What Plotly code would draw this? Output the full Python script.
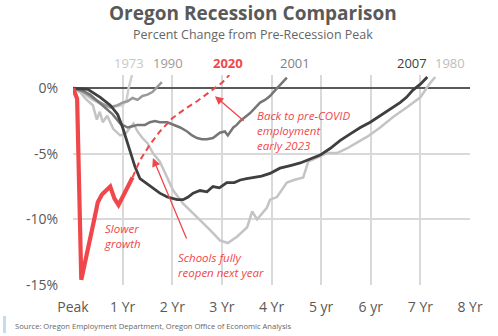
import plotly.graph_objects as go

# ---------------- data ----------------
tick_vals = [0, 1, 2, 3, 4, 5, 6, 7, 8]
tick_text = ["Peak", "1 Yr", "2 Yr", "3 Yr", "4 Yr", "5 yr", "6 yr", "7 Yr", "8 Yr"]
y_ticks = [0, -5, -10, -15]
y_tick_text = ["0%", "-5%", "-10%", "-15%"]

x1973 = [0, 0.2, 0.4, 0.6, 0.75, 0.9, 1.0, 1.08, 1.12, 1.19]
y1973 = [0, -0.4, -0.9, -1.3, -1.5, -1.4, -1.3, -0.9, 0.0, 1.0]

x1980 = [0, 0.14, 0.25, 0.4, 0.48, 0.54, 0.6, 0.69, 0.81, 0.95, 1.05, 1.15, 1.22, 1.3, 1.4,
         1.5, 1.62, 1.75, 1.9, 2.02, 2.22, 2.5, 2.76, 2.96, 3.12, 3.31, 3.51, 3.61, 3.71, 3.91,
         3.97, 4.11, 4.31, 4.45, 4.58, 4.64, 4.74, 4.92, 5.12, 5.32, 5.52, 5.79, 5.93, 6.19, 6.45,
         6.73, 7.0, 7.2, 7.3]
y1980 = [0, -0.3, -0.8, -1.3, -2.4, -1.8, -2.6, -2.1, -3.1, -3.6, -3.5, -3.0, -2.7, -3.3, -3.8,
         -4.2, -5.0, -5.6, -6.8, -7.8, -8.8, -9.8, -10.8, -11.6, -11.8, -11.3, -10.6, -9.4, -10.0, -9.1,
         -8.5, -8.3, -7.2, -7.0, -6.9, -6.8, -5.6, -5.3, -4.95, -4.95, -4.6, -4.0, -3.7, -3.0, -2.2,
         -1.45, -0.7, 0.4, 0.85]

x1990 = [0, 0.15, 0.3, 0.45, 0.6, 0.75, 0.9, 1.0, 1.1, 1.2, 1.3, 1.4, 1.5, 1.6, 1.7, 1.79]
y1990 = [0, -0.2, -0.5, -0.9, -1.2, -1.45, -1.3, -1.1, -1.0, -0.75, -0.9, -0.6, -0.5, -0.3, 0.1, 0.45]

x2001 = [0, 0.2, 0.35, 0.5, 0.6, 0.7, 0.8, 0.95, 1.1, 1.2, 1.3, 1.45, 1.55, 1.65, 1.75, 1.9,
         2.02, 2.16, 2.3, 2.4, 2.5, 2.6, 2.7, 2.82, 2.96, 3.06, 3.12, 3.23, 3.3, 3.37, 3.47, 3.57,
         3.67, 3.77, 3.87, 3.97, 4.04, 4.11, 4.2, 4.27, 4.31]
y2001 = [0, -0.2, -0.5, -1.0, -1.3, -1.6, -2.0, -2.7, -3.0, -2.9, -2.8, -2.8, -2.6, -2.5, -2.6, -2.6,
         -2.8, -3.0, -3.3, -3.6, -3.8, -3.9, -3.9, -3.8, -3.4, -3.3, -3.6, -3.0, -2.8, -2.5, -2.2, -1.9,
         -1.5, -1.1, -0.9, -0.6, -0.3, 0.0, 0.3, 0.6, 0.8]

x2007 = [0, 0.3, 0.55, 0.75, 0.9, 1.0, 1.15, 1.25, 1.35, 1.5, 1.61, 1.75, 1.9, 2.0, 2.1, 2.22,
         2.32, 2.42, 2.56, 2.7, 2.82, 2.95, 3.1, 3.25, 3.37, 3.5, 3.63, 3.8, 3.97, 4.17, 4.38, 4.58,
         4.78, 4.98, 5.18, 5.38, 5.58, 5.79, 5.99, 6.19, 6.39, 6.59, 6.72, 6.85, 7.0, 7.14]
y2007 = [0, -0.1, -0.7, -1.3, -2.0, -3.0, -4.8, -6.0, -6.9, -7.3, -7.6, -8.0, -8.3, -8.4, -8.5, -8.5,
         -8.3, -8.0, -7.8, -7.9, -7.5, -7.6, -7.2, -7.2, -7.0, -6.9, -6.8, -6.7, -6.5, -6.1, -5.9, -5.7,
         -5.4, -5.1, -4.6, -4.0, -3.5, -3.0, -2.6, -2.1, -1.6, -1.1, -0.7, -0.15, 0.3, 0.85]

x2020 = [0, 0.083, 0.167, 0.25, 0.333, 0.417, 0.5, 0.583, 0.667, 0.75, 0.833, 0.917, 1.0, 1.083, 1.167, 1.2]
y2020 = [0, -0.8, -14.6, -13.0, -11.8, -10.2, -8.7, -8.1, -7.8, -7.5, -8.4, -8.9, -8.3, -7.7, -7.1, -6.8]

x2020f = [1.2, 1.35, 1.55, 1.75, 2.0, 2.25, 2.5, 2.75, 3.0, 3.15]
y2020f = [-6.8, -5.5, -4.3, -3.3, -2.3, -1.6, -1.0, -0.3, 0.4, 1.0]

# ---------------- styling ----------------
RED = "#f0474b"
FONT = "Open Sans"

fig = go.Figure()

def add_line(x, y, color, width, dash="solid"):
    fig.add_trace(go.Scatter(x=x, y=y, mode="lines",
                             line=dict(color=color, width=width, dash=dash),
                             hoverinfo="skip", showlegend=False))

add_line(x1973, y1973, "#cfcfcf", 2.5)
add_line(x1980, y1980, "#c4c4c4", 2.5)
add_line(x1990, y1990, "#9a9a9a", 2.5)
add_line(x2001, y2001, "#767676", 2.5)
add_line(x2007, y2007, "#3f3f3f", 2.8)
add_line(x2020f, y2020f, RED, 2, dash="6px,4px")
add_line(x2020, y2020, RED, 4.2)

# plot area in pixels: x 73..470, y 75..285
L, R, T, B = 73, 470, 75, 285
def px(xp):
    return (xp - L) / (R - L)
def py(yp):
    return (B - yp) / (B - T)

ann = []
# series labels
for txt, xpix, col, bold in [("1973", 129, "#c8c8c8", False), ("1990", 168, "#9a9a9a", False),
                             ("2020", 228, RED, True), ("2001", 295, "#7f7f7f", False),
                             ("2007", 412, "#404040", False), ("1980", 450, "#bdbdbd", False)]:
    ann.append(dict(text=("<b>%s</b>" % txt) if bold else txt, x=px(xpix), y=py(63),
                    xref="paper", yref="paper", showarrow=False,
                    font=dict(family=FONT, size=13, color=col), xanchor="center", yanchor="middle"))

# text callouts
ann.append(dict(text="<i>Slower<br>growth</i>", x=px(102), y=py(236), xref="paper", yref="paper",
                showarrow=False, align="left", xanchor="left", yanchor="middle",
                font=dict(family=FONT, size=11.5, color=RED)))
ann.append(dict(text="<i>Schools fully<br>reopen next year</i>", x=px(176), y=py(265), xref="paper", yref="paper",
                showarrow=False, align="left", xanchor="left", yanchor="middle",
                font=dict(family=FONT, size=11.5, color=RED)))
ann.append(dict(text="<i>Back to pre-COVID<br>employment<br>early 2023</i>", x=px(255), y=py(130),
                xref="paper", yref="paper", showarrow=False, align="left", xanchor="left", yanchor="middle",
                font=dict(family=FONT, size=11.5, color=RED)))

# arrows
ann.append(dict(text="", x=2.86, y=-0.61, ax=3.47, ay=-2.59, xref="x", yref="y", axref="x", ayref="y",
                showarrow=True, arrowhead=2, arrowsize=1.3, arrowwidth=1.3, arrowcolor=RED))
ann.append(dict(text="", x=1.61, y=-5.33, ax=2.30, ay=-11.58, xref="x", yref="y", axref="x", ayref="y",
                showarrow=True, arrowhead=2, arrowsize=1.3, arrowwidth=1.3, arrowcolor=RED))

# title & subtitle
ann.append(dict(text="<b>Oregon Recession Comparison</b>", x=px(253), y=py(13), xref="paper", yref="paper",
                showarrow=False, xanchor="center", yanchor="middle",
                font=dict(family=FONT, size=19, color="#595959")))
ann.append(dict(text="Percent Change from Pre-Recession Peak", x=px(253), y=py(34), xref="paper", yref="paper",
                showarrow=False, xanchor="center", yanchor="middle",
                font=dict(family=FONT, size=12.5, color="#666666")))
# source
ann.append(dict(text="Source: Oregon Employment Department, Oregon Office of Economic Analysis",
                x=px(13), y=py(326), xref="paper", yref="paper", showarrow=False,
                xanchor="left", yanchor="middle", font=dict(family=FONT, size=7.6, color="#666666")))

fig.add_shape(type="rect", xref="paper", yref="paper", x0=px(3), x1=px(6), y0=py(333), y1=py(316),
              fillcolor="#c5dcef", line=dict(width=0))

fig.update_layout(
    width=498, height=336,
    margin=dict(l=L, r=498 - R, t=T, b=336 - B),
    paper_bgcolor="white", plot_bgcolor="white",
    annotations=ann,
    xaxis=dict(range=[0, 8], tickvals=tick_vals, ticktext=tick_text, showgrid=True,
               gridcolor="#d9d9d9", gridwidth=1.5, zeroline=False, showline=False,
               ticks="", ticklabelstandoff=12,
               tickfont=dict(family=FONT, size=14, color="#595959")),
    yaxis=dict(range=[-15, 1], tickvals=y_ticks, ticktext=y_tick_text, showgrid=True,
               gridcolor="#d9d9d9", gridwidth=1.5, zeroline=True, zerolinecolor="#595959",
               zerolinewidth=1.5, showline=False, ticks="", ticklabelstandoff=14,
               tickfont=dict(family=FONT, size=14, color="#595959")),
)

fig.write_html("out.html")
